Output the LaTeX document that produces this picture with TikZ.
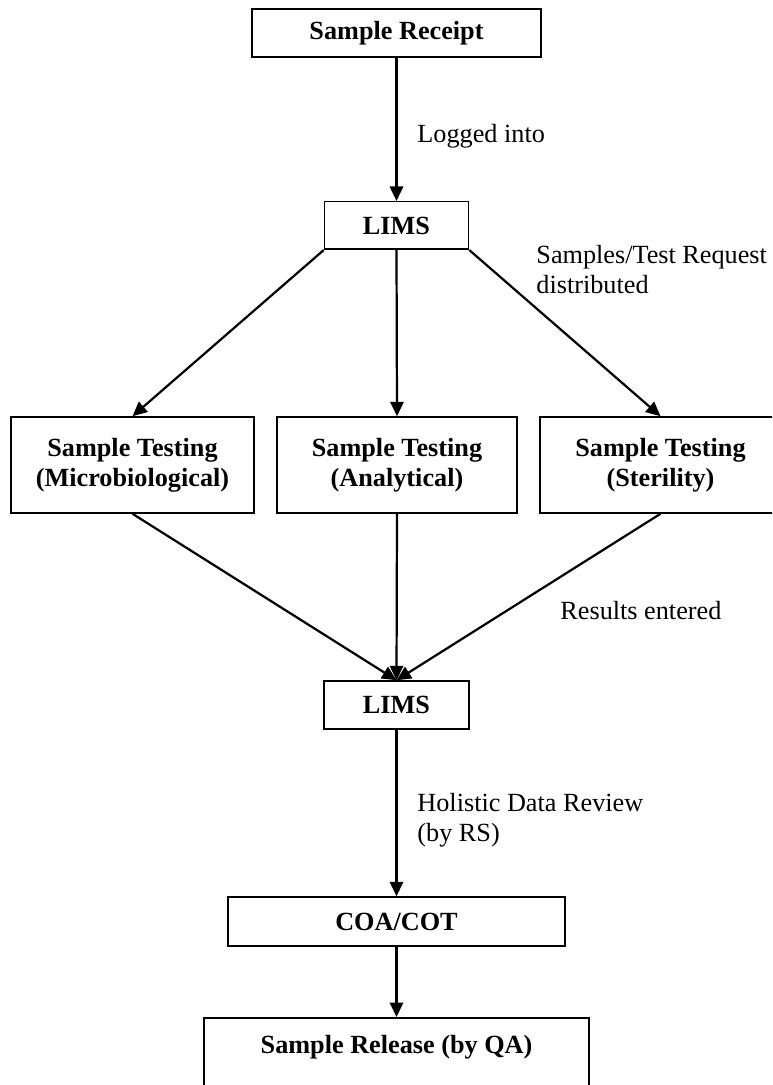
\documentclass[tikz,border=0pt]{standalone}
\usepackage{fontspec}
\setmainfont{Liberation Serif}
\usepackage{tikz}
\usetikzlibrary{arrows.meta}
\usetikzlibrary{positioning}

\tikzset{
	box/.style={rectangle, draw, line width=0.7pt, inner sep=0pt, align=center,
		font=\fontsize{11.8}{13.5}\selectfont\bfseries},
	arr/.style={line width=1pt, -{Triangle[length=6.5pt,width=6pt]}},
	lbl/.style={inner sep=0pt, anchor=base west, align=left,
		font=\fontsize{11.8}{13.5}\selectfont}
}

\begin{document}
\begin{tikzpicture}[x=0.45pt, y=-0.45pt]
				\clip (0,0) rectangle (772,1085);
				\node[box, minimum width=130pt, minimum height=21.6pt] (0) at (396.5,33) {Sample Receipt};
				\node[box, minimum width=64.8pt, minimum height=21.4pt] (1) at (396.5,225.5) {LIMS};
				\node[box, minimum width=109.4pt, minimum height=43.2pt] (2) at (132.5,465) {Sample Testing\\(Microbiological)};
				\node[box, minimum width=108pt, minimum height=43.2pt] (3) at (397,465) {Sample Testing\\(Analytical)};
				\node[box, minimum width=108.5pt, minimum height=43.2pt] (4) at (660.5,465) {Sample Testing\\(Sterility)};
				\node[box, minimum width=65.2pt, minimum height=21.6pt] (5) at (396.5,705) {LIMS};
				\node[box, minimum width=151.7pt, minimum height=22pt] (6) at (396.5,921.5) {COA/COT};
				\node[box, anchor=north, minimum width=173.3pt, text height=16.2pt, text depth=50pt] (7) at (396.5,1017) {Sample Release (by QA)};
				
				% labels (base = last line)
				\node[lbl] (a) at (417,143) {Logged into};
				\node[lbl] (b) at (536,294) {Samples/Test Request\\distributed};
				\node[lbl] (c) at (560,619) {Results entered};
				\node[lbl] (d) at (417,841) {Holistic Data Review\\(by RS)};
				
				\draw[arr] (0) -- (1);
				\draw[arr] (1.south west) -- (2.north);
				\draw[arr] (1.south) -- (3.north);
				\draw[arr] (1.south east) -- (4.north);
				\draw[arr] (2.south) -- (5.north);
				\draw[arr] (3.south) -- (5.north);
				\draw[arr] (4.south) -- (5.north);
				\draw[arr] (5) -- (6);
				\draw[arr] (6) -- (7);
			\end{tikzpicture}
\end{document}
